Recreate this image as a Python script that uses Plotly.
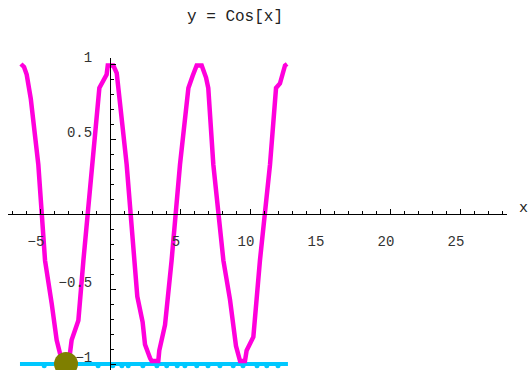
import plotly.graph_objects as go

# Polyline vertices of the cosine curve
curve_x = [-6.36, -6.14, -5.95, -5.66, -5.12, -4.64, -4.16, -3.81, -3.57, -3.30, -3.00,
           -2.86, -2.74, -2.26, -1.90, -1.31, -0.76, -0.24, -0.16, 0.24, 0.48, 1.19,
           1.79, 1.95, 2.33, 2.50, 2.86, 2.98, 3.45, 3.52, 3.93, 4.40, 5.00, 5.60,
           5.90, 6.07, 6.19, 6.55, 6.86, 7.02, 7.38, 8.10, 8.57, 9.00, 9.29, 9.64,
           9.76, 10.24, 10.71, 11.43, 11.86, 12.14, 12.33, 12.50, 12.65]
curve_y = [1.00, 0.98, 0.93, 0.77, 0.33, -0.31, -0.60, -0.84, -0.93, -0.99, -0.99,
           -0.93, -0.84, -0.71, -0.31, 0.33, 0.84, 0.93, 0.99, 0.99, 0.94, 0.33,
           -0.31, -0.55, -0.72, -0.87, -0.96, -0.98, -0.98, -0.91, -0.74, -0.31, 0.33, 0.84,
           0.92, 0.97, 0.99, 0.99, 0.91, 0.84, 0.33, -0.31, -0.57, -0.88, -0.98, -0.98,
           -0.91, -0.82, -0.31, 0.33, 0.84, 0.87, 0.95, 0.99, 1.00]

# Horizontal reference line y = -1 and its dots
base_x = [-6.43, 12.71]
base_y = [-1, -1]
dot_x = [-4.7, -2.7, -0.85, 0.2, 0.85, 1.3, 2.35, 3.35, 4.05, 4.8, 5.35, 6.2, 7.0,
         7.85, 8.8, 9.5, 10.5, 11.2, 12.0]
dot_y = [-1] * len(dot_x)

# Highlighted point (-pi, -1)
pt_x = [-3.14159]
pt_y = [-1]

x_ticks = [-5, 5, 10, 15, 20, 25]
x_labels = ["\u22125", "5", "10", "15", "20", "25"]
x_minor = [v for v in range(-7, 29) if v % 5 != 0]
y_ticks = [-1, -0.5, 0.5, 1]
y_labels = ["\u22121", "\u22120.5", "0.5", "1"]
y_minor = [round(-1.0 + 0.1 * i, 1) for i in range(21) if i % 5 != 0]

W, H = 529, 370
X0, XS = 110, 14.0      # pixel of x=0, pixels per x unit
Y0, YS = 214, 150.0     # pixel of y=0, pixels per y unit
AX_L, AX_R, AX_T = 8, 507, 58

x_range = [(AX_L - X0) / XS, (AX_R - X0) / XS]
y_range = [(Y0 - H) / YS, (Y0 - AX_T) / YS]

MONO = "Liberation Mono, DejaVu Sans Mono, monospace"
DOT_DROP = 0.012

fig = go.Figure()
fig.add_trace(go.Scatter(x=base_x, y=base_y, mode="lines",
                         line=dict(color="#00c8ff", width=4), hoverinfo="skip"))
fig.add_trace(go.Scatter(x=dot_x, y=[v - DOT_DROP for v in dot_y], mode="markers",
                         marker=dict(color="#00c8ff", size=5), hoverinfo="skip"))
fig.add_trace(go.Scatter(x=curve_x, y=curve_y, mode="lines",
                         line=dict(color="#ff00dc", width=4.5), hoverinfo="skip"))
fig.add_trace(go.Scatter(x=pt_x, y=pt_y, mode="markers",
                         marker=dict(color="#7f7f00", size=24), hoverinfo="skip"))

fig.update_layout(
    width=W, height=H,
    margin=dict(l=0, r=0, t=0, b=0),
    paper_bgcolor="white", plot_bgcolor="white",
    showlegend=False,
    font=dict(family=MONO, size=14, color="#333333"),
    xaxis=dict(
        domain=[AX_L / W, AX_R / W], range=x_range,
        anchor="free", position=(H - Y0) / H,
        showline=True, linecolor="black", linewidth=1,
        showgrid=False, zeroline=False,
        tickmode="array", tickvals=x_ticks, ticktext=x_labels,
        ticks="inside", ticklen=5, tickcolor="black", tickwidth=1,
        ticklabelstandoff=14, ticklabelshift=-4,
        minor=dict(tickmode="array", tickvals=x_minor, ticks="inside",
                   ticklen=3, tickcolor="black", showgrid=False),
        automargin=False, fixedrange=True,
    ),
    yaxis=dict(
        domain=[0, (H - AX_T) / H], range=y_range,
        anchor="free", position=X0 / W,
        showline=True, linecolor="black", linewidth=1,
        showgrid=False, zeroline=False,
        tickmode="array", tickvals=y_ticks, ticktext=y_labels,
        ticks="inside", ticklen=5, tickcolor="black", tickwidth=1,
        ticklabelstandoff=15, ticklabelshift=-7,
        minor=dict(tickmode="array", tickvals=y_minor, ticks="inside",
                   ticklen=3, tickcolor="black", showgrid=False),
        automargin=False, fixedrange=True,
    ),
    annotations=[
        dict(text="y = Cos[x]", x=235 / W, y=(H - 17) / H, xref="paper", yref="paper",
             xanchor="center", yanchor="middle",
             showarrow=False, font=dict(family=MONO, size=16, color="#222222")),
        dict(text="x", x=523 / W, y=(H - 208) / H, xref="paper", yref="paper",
             xanchor="center", yanchor="middle",
             showarrow=False, font=dict(family=MONO, size=15, color="#222222")),
    ],
)

fig.write_html("out.html")
